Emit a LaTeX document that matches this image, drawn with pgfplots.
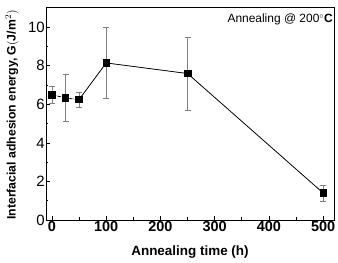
\documentclass[border=0pt]{standalone}
\usepackage{pgfplots}
\pgfplotsset{compat=1.18}
\usepackage{fontspec}
\setmainfont{Liberation Sans}
\begin{document}
\begin{tikzpicture}
\begin{axis}[
  name=ax,
  width=288bp, height=212bp, scale only axis,
  xmin=-11, xmax=520, ymin=0, ymax=11,
  xtick={0,100,...,500}, minor xtick={50,150,...,450},
  ytick={0,2,...,10}, minor ytick={1,3,...,9},
  tick align=inside, xtick pos=bottom, ytick pos=left,
  major tick length=4bp, minor tick length=2.5bp,
  axis line style={line width=1pt}, every tick/.style={line width=0.8pt},
  /pgf/number format/assume math mode=true,
  xticklabel style={font=\fontsize{14.5}{15}\selectfont\bfseries, inner sep=1bp},
  yticklabel style={font=\fontsize{15}{16}\selectfont, inner sep=1bp},
]
% error bars
\addplot[gray, mark=none, error bars/.cd, y dir=both, y explicit,
  error bar style={line width=0.4pt, gray}, error mark options={rotate=90, mark size=3bp, gray}]
  coordinates {(0,6.5) +- (0,0.45) (25,6.33) +- (0,1.22) (50,6.25) +- (0,0.4)
               (100,8.15) +- (0,1.85) (250,7.6) +- (0,1.9) (500,1.4) +- (0,0.4)};
% short-time points joined by a dashed line
\addplot[black, dashed, line width=0.7pt, mark=square*, mark size=3.3bp, mark options={solid}]
  coordinates {(0,6.5) (25,6.33) (50,6.25)};
\addplot[black, line width=0.7pt, mark=square*, mark size=3.3bp]
  coordinates {(50,6.25) (100,8.15) (250,7.6) (500,1.4)};
\node[anchor=north east, inner sep=1bp, font=\fontsize{12}{13}\selectfont]
  at ([yshift=-5bp]rel axis cs:1,1) {Annealing @ 200\textbf{$^\circ$C}};
\end{axis}
% axis titles
\node[font=\fontsize{13.5}{14}\selectfont\bfseries, anchor=center]
  at ([yshift=-32bp]ax.south) {Annealing time (h)};
\node[font=\fontsize{12.3}{14}\selectfont\bfseries, rotate=90, anchor=center, inner sep=0pt]
  at ([xshift=-34bp, yshift=-1bp]ax.west) {Interfacial adhesion energy, G$\big($J/m$^2\big)$};
\pgfresetboundingbox
\path[use as bounding box] ([xshift=-46bp, yshift=-43bp]ax.south west)
  rectangle ([xshift=4bp, yshift=8bp]ax.north east);
\end{tikzpicture}
\end{document}
